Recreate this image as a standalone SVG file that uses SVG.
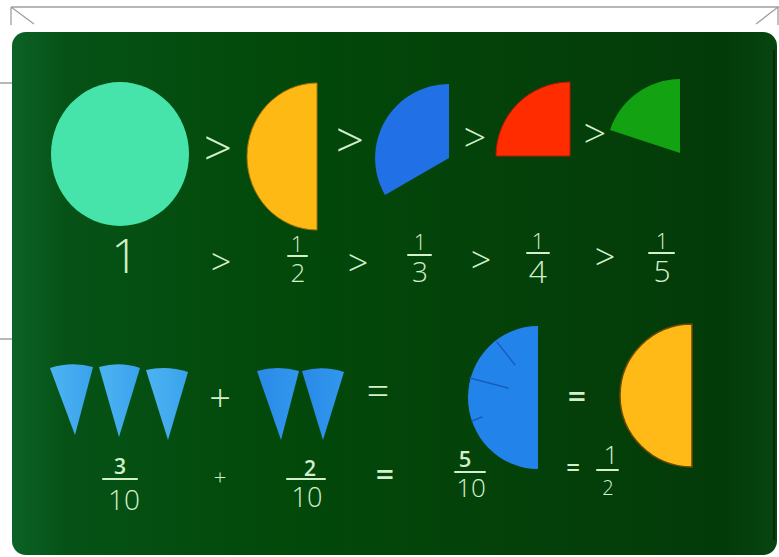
<svg xmlns="http://www.w3.org/2000/svg" width="779" height="557" viewBox="0 0 779 557">
<defs>
<linearGradient id="board" x1="0" y1="0" x2="1" y2="0">
<stop offset="0" stop-color="#0c6226"/>
<stop offset="0.07" stop-color="#065216"/>
<stop offset="0.35" stop-color="#02490a"/>
<stop offset="0.7" stop-color="#044009"/>
<stop offset="0.93" stop-color="#033b08"/>
<stop offset="1" stop-color="#074510"/>
</linearGradient>
<linearGradient id="cone1" x1="0" y1="0" x2="1" y2="0">
<stop offset="0" stop-color="#4db4f2"/>
<stop offset="1" stop-color="#3aa2ec"/>
</linearGradient>
<linearGradient id="cone2" x1="0" y1="0" x2="1" y2="0">
<stop offset="0" stop-color="#2a8ae8"/>
<stop offset="1" stop-color="#3197ec"/>
</linearGradient>
</defs>
<style>
.frame{stroke:#a0a0a0;stroke-width:1.3;fill:none}
.chalk{fill:#d4efcc;font-family:"Open Sans","DejaVu Sans",sans-serif;font-weight:300;text-anchor:middle}
.bold{font-weight:600}
.bar{stroke:#d4efcc;stroke-width:2;stroke-linecap:round}
.cut{stroke:#1a5cbc;stroke-width:1.4;stroke-linecap:round}
</style>
<rect width="779" height="557" fill="#ffffff"/>
<g id="frame">
<path class="frame" d="M11,7 H779 M11,7 V25 M11,7 L34,24 M778,7 V25 M778,7 L756,24 M0,83 H12 M0,339 H12"/>
</g>
<g id="board-bg">
<rect x="12" y="32" width="765" height="523" rx="14" fill="url(#board)"/>
<line x1="774" y1="50" x2="774" y2="540" stroke="#022a05" stroke-width="2"/>
</g>
<g id="whole">
<ellipse cx="120" cy="154" rx="69" ry="72" fill="#46e3ab"/>
</g>
<g id="half">
<path d="M317,83 A70,73.5 0 0 0 317,230 Z" fill="#ffb915" stroke="#a87200" stroke-width="1"/>
</g>
<g id="third">
<path d="M449,158 L449,84 A74,74 0 0 0 385,195 Z" fill="#2170e6"/>
</g>
<g id="quarter">
<path d="M570,156 L570,82 A74,74 0 0 0 496,156 Z" fill="#ff2c00" stroke="#b81800" stroke-width="1"/>
</g>
<g id="fifth">
<path d="M680,153 L680,79 A74,74 0 0 0 610,130 Z" fill="#12a212"/>
</g>
<g id="top-signs">
<text class="chalk" x="218" y="166" font-size="50">&gt;</text>
<text class="chalk" x="350" y="158" font-size="50">&gt;</text>
<text class="chalk" x="475" y="152" font-size="40">&gt;</text>
<text class="chalk" x="595" y="148" font-size="40">&gt;</text>
</g>
<g id="fraction-row">
<text class="chalk" x="125" y="273" font-size="48">1</text>
<text class="chalk" x="221" y="275" font-size="36">&gt;</text>
<text class="chalk" x="297" y="252" font-size="22">1</text>
<line class="bar" x1="288" y1="256" x2="307" y2="256"/>
<text class="chalk" x="298" y="282" font-size="26">2</text>
<text class="chalk" x="358" y="276" font-size="36">&gt;</text>
<text class="chalk" x="420" y="250" font-size="22">1</text>
<line class="bar" x1="408" y1="255" x2="431" y2="255"/>
<text class="chalk" x="420" y="282" font-size="28">3</text>
<text class="chalk" x="481" y="273" font-size="36">&gt;</text>
<text class="chalk" x="538" y="249" font-size="22">1</text>
<line class="bar" x1="527" y1="253" x2="549" y2="253"/>
<text class="chalk" x="538" y="283" font-size="32">4</text>
<text class="chalk" x="605" y="270" font-size="36">&gt;</text>
<text class="chalk" x="662" y="249" font-size="22">1</text>
<line class="bar" x1="649" y1="253" x2="674" y2="253"/>
<text class="chalk" x="662" y="282" font-size="30">5</text>
</g>
<g id="three-tenths">
<path d="M50,368 Q72,361 93,367 L75,435 Z" fill="url(#cone1)"/>
<path d="M99,367 Q120,361 140,368 L119,437 Z" fill="url(#cone1)"/>
<path d="M146,370 Q167,365 188,372 L168,440 Z" fill="url(#cone1)"/>
</g>
<g id="two-tenths">
<path d="M257,371 Q278,365 299,371 L281,440 Z" fill="url(#cone2)"/>
<path d="M302,371 Q323,365 344,372 L323,440 Z" fill="url(#cone2)"/>
</g>
<g id="five-tenths">
<path d="M538,326 A70,71.5 0 0 0 538,469 Z" fill="#2284ea"/>
<line class="cut" x1="497" y1="342" x2="515" y2="365"/>
<line class="cut" x1="470" y1="378" x2="508" y2="388"/>
<line class="cut" x1="472" y1="421" x2="482" y2="417"/>
</g>
<g id="half-2">
<path d="M692,324 A72,71.5 0 0 0 692,467 Z" fill="#ffba18" stroke="#6a4a00" stroke-width="1.5"/>
</g>
<g id="equation">
<text class="chalk" x="220" y="412" font-size="38">+</text>
<text class="chalk" x="378" y="405" font-size="40">=</text>
<text class="chalk bold" x="577" y="408" font-size="32">=</text>
<text class="chalk bold" x="120" y="474" font-size="21">3</text>
<line class="bar" x1="103" y1="479" x2="137" y2="479"/>
<text class="chalk" x="124" y="510" font-size="28">10</text>
<text class="chalk" x="220" y="485" font-size="22">+</text>
<text class="chalk bold" x="310" y="476" font-size="21">2</text>
<line class="bar" x1="287" y1="479" x2="325" y2="479"/>
<text class="chalk" x="307" y="507" font-size="27">10</text>
<text class="chalk bold" x="385" y="486" font-size="32">=</text>
<text class="chalk bold" x="465" y="467" font-size="22">5</text>
<line class="bar" x1="455" y1="472" x2="485" y2="472"/>
<text class="chalk" x="471" y="497" font-size="26">10</text>
<text class="chalk bold" x="573" y="476" font-size="24">=</text>
<text class="chalk" x="611" y="464" font-size="26">1</text>
<line class="bar" x1="597" y1="470" x2="618" y2="470"/>
<text class="chalk" x="608" y="495" font-size="20">2</text>
</g>
</svg>
